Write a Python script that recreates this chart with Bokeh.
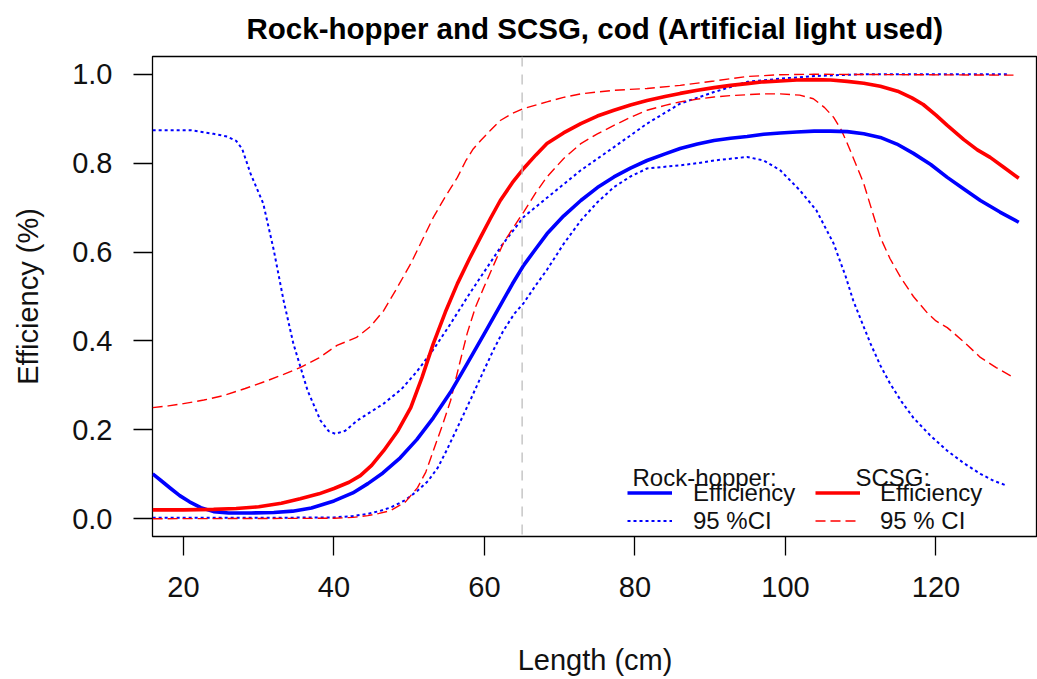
from bokeh.plotting import figure
from bokeh.models import (Legend, LegendItem, Label, Span, FixedTicker,
                          NumeralTickFormatter)
from bokeh.embed import file_html
from bokeh.resources import INLINE

# ---------------- data ----------------
# Rock-hopper efficiency
rh_len = [15.9, 17.0, 18.3, 19.5, 20.8, 22.3, 24.0, 26.0, 29.0, 32.0, 34.5, 37.0,
          40.0, 42.5, 44.5, 46.5, 48.8, 51.0, 53.2, 55.5, 57.7, 60.0, 62.1, 63.7,
          65.2, 66.8, 68.3, 70.5, 72.8, 75.0, 77.2, 79.4, 81.6, 84.0, 86.0, 88.3,
          90.5, 92.7, 94.9, 97.1, 99.3, 101.5, 103.8, 106.0, 108.2, 110.4, 112.6,
          114.8, 117.0, 119.3, 121.5, 123.7, 125.9, 128.5, 131.0]
rh_eff = [0.101, 0.086, 0.068, 0.052, 0.038, 0.025, 0.016, 0.013, 0.013, 0.014,
          0.017, 0.024, 0.040, 0.058, 0.079, 0.103, 0.137, 0.178, 0.227, 0.285,
          0.349, 0.417, 0.480, 0.528, 0.570, 0.607, 0.641, 0.681, 0.716, 0.745,
          0.769, 0.789, 0.806, 0.821, 0.833, 0.843, 0.851, 0.856, 0.860, 0.865,
          0.868, 0.870, 0.872, 0.872, 0.871, 0.866, 0.858, 0.843, 0.822, 0.797,
          0.768, 0.742, 0.716, 0.690, 0.667]

# Rock-hopper 95% CI
rh_up_len = [15.9, 21.0, 24.0, 25.8, 27.0, 27.8, 28.9, 30.6, 32.0, 33.3, 34.6, 36.5,
             38.2, 39.3, 40.2, 41.5, 43.1, 46.6, 49.0, 51.1, 53.3, 55.5, 57.7, 59.5,
             62.3, 65.2, 68.3, 72.8, 77.2, 81.6, 86.0, 90.5, 94.9, 99.3, 103.8, 110.0,
             129.5]
rh_up = [0.874, 0.874, 0.866, 0.860, 0.850, 0.832, 0.777, 0.709, 0.604, 0.491, 0.394,
         0.288, 0.221, 0.197, 0.191, 0.198, 0.221, 0.259, 0.292, 0.333, 0.383, 0.439,
         0.498, 0.544, 0.615, 0.679, 0.722, 0.784, 0.836, 0.889, 0.934, 0.960, 0.983,
         0.990, 0.996, 1.000, 1.000]
rh_lo_len = [15.9, 30.0, 40.0, 42.5, 44.5, 46.0, 47.5, 49.5, 51.1, 52.5, 53.8, 55.0,
             56.4, 58.2, 59.9, 61.2, 62.5, 64.0, 65.2, 66.8, 68.3, 70.5, 72.8, 75.0,
             77.2, 79.4, 81.6, 84.0, 86.0, 88.3, 90.5, 92.7, 94.9, 97.1, 99.3, 101.9,
             104.1, 106.4, 108.0, 109.0, 110.2, 111.3, 112.6, 113.9, 115.4, 117.0,
             119.2, 121.5, 123.7, 125.9, 127.7, 129.5]
rh_lo = [0.002, 0.002, 0.003, 0.006, 0.011, 0.017, 0.025, 0.042, 0.063, 0.085, 0.115,
         0.155, 0.205, 0.270, 0.333, 0.380, 0.423, 0.462, 0.485, 0.525, 0.560, 0.618,
         0.671, 0.712, 0.746, 0.770, 0.788, 0.792, 0.795, 0.800, 0.806, 0.810, 0.814,
         0.806, 0.784, 0.739, 0.694, 0.619, 0.545, 0.491, 0.440, 0.394, 0.345, 0.304,
         0.264, 0.227, 0.188, 0.153, 0.125, 0.101, 0.085, 0.074]

# SCSG efficiency
sc_len = [15.9, 20.0, 24.0, 27.0, 30.0, 33.0, 35.5, 38.0, 40.0, 42.0, 43.5, 45.0,
          46.6, 48.5, 50.2, 51.7, 53.2, 54.8, 56.4, 58.0, 59.5, 60.8, 62.1, 63.7,
          65.2, 66.8, 68.3, 70.5, 72.8, 75.0, 77.2, 79.4, 81.6, 84.0, 86.0, 88.3,
          90.5, 92.7, 94.9, 97.1, 99.3, 101.5, 103.8, 106.0, 108.2, 110.4, 112.6,
          114.9, 116.8, 118.3, 120.0, 121.5, 123.7, 125.5, 127.2, 129.0, 131.0]
sc_eff = [0.020, 0.020, 0.021, 0.023, 0.027, 0.035, 0.045, 0.056, 0.068, 0.082,
          0.097, 0.120, 0.153, 0.198, 0.250, 0.318, 0.394, 0.465, 0.529, 0.585,
          0.634, 0.676, 0.716, 0.756, 0.788, 0.818, 0.844, 0.868, 0.889, 0.906,
          0.919, 0.931, 0.941, 0.950, 0.957, 0.964, 0.970, 0.975, 0.979, 0.983,
          0.985, 0.987, 0.988, 0.987, 0.984, 0.980, 0.973, 0.962, 0.947, 0.932,
          0.908, 0.885, 0.853, 0.830, 0.813, 0.791, 0.766]

# SCSG 95% CI
sc_up_len = [15.9, 18.0, 20.0, 22.7, 25.3, 28.2, 31.2, 33.3, 35.5, 38.0, 40.4, 43.0,
             44.8, 46.6, 48.4, 50.2, 51.7, 53.2, 54.8, 56.4, 57.5, 58.5, 59.5, 60.8,
             62.1, 63.7, 65.2, 68.3, 70.5, 72.8, 77.2, 81.6, 86.0, 90.5, 94.9, 99.3,
             103.8, 130.3]
sc_up = [0.250, 0.254, 0.259, 0.267, 0.277, 0.293, 0.311, 0.325, 0.340, 0.362, 0.390,
         0.408, 0.432, 0.468, 0.520, 0.574, 0.626, 0.678, 0.725, 0.768, 0.805, 0.832,
         0.851, 0.874, 0.896, 0.912, 0.923, 0.938, 0.948, 0.956, 0.964, 0.968, 0.975,
         0.985, 0.995, 0.999, 1.000, 0.998]
sc_lo_len = [15.9, 40.0, 42.5, 44.5, 46.0, 47.5, 49.5, 51.1, 52.2, 53.2, 54.4, 55.5,
             56.6, 57.7, 58.8, 59.9, 61.2, 62.5, 63.9, 65.2, 66.8, 68.3, 70.5, 72.8,
             75.0, 77.2, 79.4, 81.6, 84.0, 86.0, 88.3, 90.5, 92.7, 94.9, 97.1, 99.3,
             101.9, 103.7, 105.2, 106.4, 107.4, 108.2, 109.3, 110.4, 111.5, 112.6,
             113.9, 115.3, 117.0, 118.9, 120.0, 121.5, 123.7, 125.9, 128.0, 130.3]
sc_lo = [0.000, 0.001, 0.003, 0.007, 0.012, 0.018, 0.038, 0.070, 0.105, 0.153, 0.210,
         0.266, 0.343, 0.417, 0.476, 0.520, 0.570, 0.620, 0.657, 0.690, 0.733, 0.769,
         0.810, 0.844, 0.866, 0.885, 0.903, 0.919, 0.930, 0.938, 0.944, 0.949, 0.952,
         0.954, 0.956, 0.956, 0.953, 0.945, 0.925, 0.903, 0.875, 0.845, 0.800, 0.754,
         0.693, 0.633, 0.585, 0.543, 0.500, 0.462, 0.445, 0.430, 0.398, 0.363, 0.340,
         0.318]

ref_length = 65          # vertical reference line
x_ticks = [20, 40, 60, 80, 100, 120]
y_ticks = [0.0, 0.2, 0.4, 0.6, 0.8, 1.0]
title_text = "Rock-hopper and SCSG, cod (Artificial light used)"

FONT = "Liberation Sans"
BLUE = "#0000FF"
RED = "#FF0000"

p = figure(width=1037, height=679, x_range=(15.88, 133.49), y_range=(-0.04, 1.04),
           output_backend="svg", toolbar_location=None,
           min_border_left=152, min_border_right=0, min_border_top=56,
           min_border_bottom=143)

p.title.text = title_text
p.title.text_font = FONT
p.title.text_font_size = "29.5px"
p.title.text_font_style = "bold"
p.title.text_color = "#000000"
p.title.align = "left"
p.title.offset = 94
p.title.vertical_align = "top"
p.title.standoff = 20

p.xgrid.visible = False
p.ygrid.visible = False
p.outline_line_color = "#000000"
p.outline_line_width = 1.3
p.background_fill_color = "white"
p.border_fill_color = "white"

for ax in (p.xaxis[0], p.yaxis[0]):
    ax.axis_line_color = None
    ax.major_tick_in = 0
    ax.major_tick_out = 19
    ax.major_tick_line_color = "#000000"
    ax.major_tick_line_width = 1.3
    ax.minor_tick_line_color = None
    ax.major_label_standoff = 21
    ax.major_label_text_font = FONT
    ax.major_label_text_font_size = "29px"
    ax.major_label_text_color = "#111111"
    ax.axis_label_text_font = FONT
    ax.axis_label_text_font_size = "29px"
    ax.axis_label_text_font_style = "normal"
    ax.axis_label_text_color = "#111111"

p.xaxis[0].ticker = FixedTicker(ticks=x_ticks)
p.yaxis[0].ticker = FixedTicker(ticks=y_ticks)
p.yaxis[0].formatter = NumeralTickFormatter(format="0.0")
p.yaxis[0].major_label_orientation = "horizontal"
p.xaxis[0].axis_label = "Length (cm)"
p.yaxis[0].axis_label = "Efficiency (%)"
p.xaxis[0].axis_label_standoff = 44
p.yaxis[0].axis_label_standoff = 25

p.add_layout(Span(location=ref_length, dimension="height", line_color="#BEBEBE",
                  line_width=1.3, line_dash="10 8"))

r_rh_up = p.line(rh_up_len, rh_up, line_color=BLUE, line_width=2, line_dash="3 3")
r_rh_lo = p.line(rh_lo_len, rh_lo, line_color=BLUE, line_width=2, line_dash="3 3")
r_sc_up = p.line(sc_up_len, sc_up, line_color=RED, line_width=1.4, line_dash="10 5")
r_sc_lo = p.line(sc_lo_len, sc_lo, line_color=RED, line_width=1.4, line_dash="10 5")
r_rh = p.line(rh_len, rh_eff, line_color=BLUE, line_width=3.6, line_join="round")
r_sc = p.line(sc_len, sc_eff, line_color=RED, line_width=3.6, line_join="round")


def make_legend(items, loc, standoff):
    lg = Legend(items=items, location=loc, border_line_color=None,
                background_fill_alpha=0, padding=0, margin=0, spacing=-4,
                glyph_width=45, glyph_height=11, label_height=25,
                label_standoff=standoff, label_text_font=FONT,
                label_text_font_size="24px", label_text_color="#111111")
    return lg


leg_rh = make_legend([LegendItem(label="Efficiency", renderers=[r_rh]),
                      LegendItem(label="95 %CI", renderers=[r_rh_lo])], (475, 1.5), 21)
leg_sc = make_legend([LegendItem(label="Efficiency", renderers=[r_sc]),
                      LegendItem(label="95 % CI", renderers=[r_sc_lo])], (663, 1.5), 20)
p.add_layout(leg_rh)
p.add_layout(leg_sc)

p.add_layout(Label(x=79.67, y=0.0923, text="Rock-hopper:", text_font=FONT,
                   text_font_size="24px", text_color="#111111",
                   text_baseline="alphabetic"))
p.add_layout(Label(x=109.3, y=0.0923, text="SCSG:", text_font=FONT,
                   text_font_size="24px", text_color="#111111",
                   text_baseline="alphabetic"))

open("out.html", "w").write(file_html(p, INLINE))
